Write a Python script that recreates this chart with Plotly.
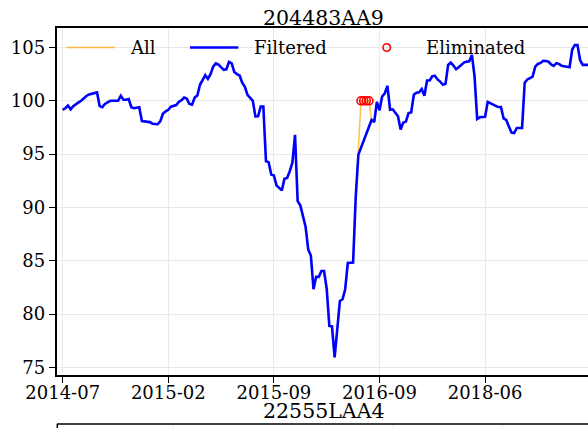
import plotly.graph_objects as go

# ---------------- data ----------------
series_name = "204483AA9"
next_series_name = "22555LAA4"

all_values = [
    99.15, 99.3, 99.55, 99.2, 99.5, 99.7, 99.85, 100.0, 100.25, 100.45,
    100.6, 100.65, 100.7, 100.78, 99.5, 99.4, 99.7, 99.85, 100.0, 100.0,
    100.0, 100.0, 100.47, 100.1, 100.1, 100.16, 99.4, 99.3, 99.35,
    99.4, 98.1, 98.05, 98.05, 98.0, 97.85, 97.8, 97.8, 98.1, 98.8,
    99.0, 99.15, 99.45, 99.5, 99.6, 99.9, 100.05, 100.3, 100.2, 99.7,
    99.63, 100.3, 100.5, 101.5, 101.9, 102.4, 102.05, 102.5, 103.2, 103.5,
    103.4, 103.1, 102.9, 102.95, 103.65, 103.5, 102.7, 102.5, 102.37, 101.7,
    101.3, 100.55, 100.25, 100.0, 98.53, 98.55, 99.47, 99.47, 94.33, 94.25,
    93.08, 93.0, 92.06, 91.8, 91.6, 92.7, 92.77, 93.4, 94.2, 96.8,
    90.6, 90.2, 89.2, 88.2, 86.07, 85.5, 82.34, 83.5, 83.5, 84.05,
    84.05, 82.4, 78.9, 78.85, 75.95, 78.9, 81.24, 81.4, 82.34, 84.8,
    84.83, 84.83, 91.0, 94.95, 100.0, 100.0, 100.0, 100.0, 98.2, 98.0,
    99.9, 99.1, 100.4, 100.7, 101.4, 99.16, 99.2, 98.85, 98.55, 97.3,
    97.95, 98.05, 98.85, 98.9, 100.56, 100.75, 100.8, 101.1, 100.47, 101.9,
    101.9, 102.3, 102.34, 102.0, 101.8, 101.5, 101.59, 103.36, 103.58, 103.3,
    102.96, 103.15, 103.36, 103.58,
    103.67, 103.7, 104.3, 102.3, 98.3,
    98.45, 98.48, 98.5, 99.9, 99.8, 99.65, 99.53, 99.41, 99.41, 98.35,
    98.2, 97.6, 97.02, 96.98, 97.45, 97.45, 97.45, 101.7, 102.0, 102.12,
    102.27, 103.2, 103.45, 103.55, 103.75, 103.72, 103.67, 103.4, 103.27, 103.52,
    103.46, 103.27, 103.22, 103.18, 103.15, 104.8, 105.23, 105.23, 103.8, 103.36,
    103.36, 103.36, 103.36,
]
eliminated_idx = [113, 114, 115, 116]
tick_idx = [0, 40, 80, 120, 160]
tick_labels = ["2014-07", "2015-02", "2015-09", "2016-09", "2018-06"]
y_ticks = [75, 80, 85, 90, 95, 100, 105]
legend_names = ["All", "Filtered", "Eliminated"]

# ---------------- derived ----------------
idx = list(range(len(all_values)))
filt_x = [i for i in idx if i not in eliminated_idx]
filt_y = [all_values[i] for i in filt_x]
elim_y = [all_values[i] for i in eliminated_idx]

W, H = 588, 428
L, R, T, B = 57, 0, 28, 53
FONT = "DejaVu Serif"
ORANGE = "rgba(255,165,0,0.7)"
BLUE = "#0000ff"
RED = "#ff0000"
GRID = "#e9e9e9"


def px(x):
    return (x - L) / (W - L - R)


def py(y):
    return (H - B - y) / (H - T - B)


fig = go.Figure()
fig.add_trace(go.Scatter(x=idx, y=all_values, mode="lines", name=legend_names[0],
                         line=dict(color=ORANGE, width=1.5), showlegend=False))
fig.add_trace(go.Scatter(x=filt_x, y=filt_y, mode="lines", name=legend_names[1],
                         line=dict(color=BLUE, width=2.6), showlegend=False))
fig.add_trace(go.Scatter(x=eliminated_idx, y=elim_y, mode="markers", name=legend_names[2],
                         marker=dict(symbol="circle-open", color=RED, size=8,
                                     line=dict(width=1.6, color=RED)),
                         showlegend=False))

shapes = []
annotations = []
# manual legend
ly = 47.5
shapes.append(dict(type="line", xref="paper", yref="paper", x0=px(66.7), x1=px(115),
                   y0=py(ly), y1=py(ly), line=dict(color=ORANGE, width=1.5)))
shapes.append(dict(type="line", xref="paper", yref="paper", x0=px(190), x1=px(238.3),
                   y0=py(ly), y1=py(ly), line=dict(color=BLUE, width=2.6)))
shapes.append(dict(type="circle", xref="paper", yref="paper", x0=px(383), x1=px(390.5),
                   y0=py(ly + 3.75), y1=py(ly - 3.75), line=dict(color=RED, width=1.6)))
for name, xl in zip(legend_names, [129, 253, 425]):
    annotations.append(dict(text=name, xref="paper", yref="paper", x=px(xl), y=py(ly),
                            xanchor="left", yanchor="middle", showarrow=False, borderpad=0,
                            font=dict(family=FONT, size=18, color="black")))

# titles
annotations.append(dict(text=series_name, xref="paper", yref="paper", x=px(323.5), y=py(18),
                        xanchor="center", yanchor="middle", showarrow=False, borderpad=0,
                        font=dict(family=FONT, size=20.5, color="black")))
annotations.append(dict(text=next_series_name, xref="paper", yref="paper", x=px(323), y=py(411),
                        xanchor="center", yanchor="middle", showarrow=False, borderpad=0,
                        font=dict(family=FONT, size=20.5, color="black")))

# top edge of the next panel
shapes.append(dict(type="line", xref="paper", yref="paper", x0=px(57), x1=px(590),
                   y0=py(424), y1=py(424), line=dict(color="black", width=1.5)))
shapes.append(dict(type="line", xref="paper", yref="paper", x0=px(57.3), x1=px(57.3),
                   y0=py(424), y1=py(432), line=dict(color="black", width=1.5)))
for gx in [173, 393, 502]:
    shapes.append(dict(type="line", xref="paper", yref="paper", x0=px(gx), x1=px(gx),
                       y0=py(425), y1=py(432), line=dict(color=GRID, width=1)))

x_left = (57 - 62.7) / 2.64
x_right = (588 - 62.7) / 2.64

fig.update_layout(
    width=W, height=H,
    margin=dict(l=L, r=R, t=T, b=B, pad=0, autoexpand=False),
    paper_bgcolor="white", plot_bgcolor="white",
    font=dict(family=FONT, size=18, color="black"),
    shapes=shapes, annotations=annotations,
    showlegend=False,
    xaxis=dict(range=[x_left, x_right], tickvals=tick_idx, ticktext=tick_labels,
               automargin=False, ticklabelstandoff=-6,
               showgrid=True, gridcolor=GRID, gridwidth=1, zeroline=False,
               showline=True, linecolor="black", linewidth=1.5, mirror=True,
               ticks="outside", ticklen=6.5, tickwidth=1.3, tickcolor="black",
               tickfont=dict(family=FONT, size=18, color="black")),
    yaxis=dict(range=[74.30, 106.82], tickvals=y_ticks,
               automargin=False,
               showgrid=True, gridcolor=GRID, gridwidth=1, zeroline=False,
               showline=True, linecolor="black", linewidth=1.5,
               ticks="outside", ticklen=6.5, tickwidth=1.3, tickcolor="black",
               tickfont=dict(family=FONT, size=18, color="black")),
)

fig.write_html(
    "out.html",
    config={"displayModeBar": False},
    post_script="document.body.style.margin='0';document.body.style.padding='0';"
                "document.body.style.overflow='hidden';",
)
